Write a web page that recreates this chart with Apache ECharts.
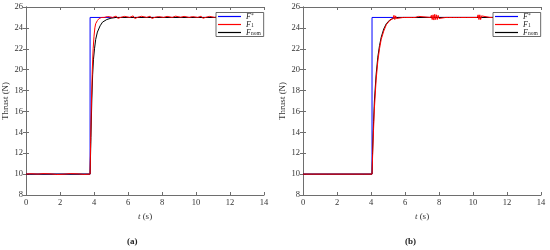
<!DOCTYPE html>
<html>
<head>
<meta charset="utf-8">
<script src="https://cdn.jsdelivr.net/npm/echarts@6/dist/echarts.min.js"></script>
<style>
html,body{margin:0;padding:0;background:#fff;}
#c{width:550px;height:250px;}
</style>
</head>
<body>
<div id="c"></div>
<script>
// ---- data (t in s, thrust in N) ----
var xTicks = [0, 2, 4, 6, 8, 10, 12, 14];
var yTicks = [8, 10, 12, 14, 16, 18, 20, 22, 24, 26];

// (a)
var refA = [[0,10],[3.77,10],[3.77,25],[13.8,25]];
var f1A = [[0,10],[0.3,10.04],[0.4,9.97],[0.7,10],[1.0,10.05],[1.1,9.96],[1.5,10.02],[1.8,9.96],[1.9,10.04],[2.3,10],[2.6,10.05],[2.7,9.96],[3.1,10.02],[3.4,9.97],[3.5,10.04],[3.77,10],
  [3.80,13],[3.85,17],[3.90,20],[3.95,22],[4.00,23.2],[4.05,24],[4.10,24.4],[4.20,24.7],[4.30,24.9],[4.45,25],
  [4.6,25.0],[4.8,25.09],[4.9,24.94],[5.1,25.0],[5.3,25.13],[5.4,24.91],[5.6,25.02],[5.8,25.1],[5.9,24.93],[6.1,25.0],[6.3,25.15],[6.4,24.9],[6.6,25.03],[6.8,25.11],[6.9,24.94],[7.1,25.0],[7.3,25.12],[7.4,24.9],[7.6,25.02],[7.8,25.08],[7.9,24.95],[8.1,25.0],[8.3,25.1],[8.4,24.92],[8.6,25.0],[8.8,25.12],[8.9,24.93],[9.1,25.02],[9.3,25.1],[9.4,24.94],[9.6,25.0],[9.8,25.08],[9.9,24.93],[10.1,25.0],[10.3,25.12],[10.4,24.92],[10.6,25.02],[10.8,25.1],[10.9,24.94],[11.1,25.0],[11.3,25.1],[11.4,24.93],[11.6,25.0],[11.8,25.1],[11.9,24.92],[12.1,25.02],[12.3,25.12],[12.4,24.93],[12.6,25.0],[12.8,25.08],[12.9,24.94],[13.1,25.0],[13.3,25.1],[13.4,24.92],[13.6,25.0],[13.7,25.25],[13.75,24.85],[13.8,25.0]];
var fnomA = [[0,10],[3.77,10],[3.82,13.5],[3.87,17],[3.92,19.5],[3.97,21],[4.03,22],[4.10,22.9],[4.20,23.6],[4.36,24.2],[4.50,24.55],[4.75,24.8],[5.00,24.93],[5.30,25],[13.8,25]];

// (b)
var refB = [[0,10],[4.06,10],[4.06,25],[13.8,25]];
var f1B = [[0,10],[0.55,10],[0.6,10.08],[0.65,10],[1.45,10],[1.5,10.08],[1.55,10],[2.35,10],[2.4,10.07],[2.45,10],[2.95,10],[3.0,9.93],[3.05,10],[3.55,10],[3.6,10.07],[3.65,10],[4.06,10],
  [4.10,12],[4.15,14.3],[4.20,16.3],[4.30,19],[4.40,20.8],[4.50,22],[4.60,22.9],[4.75,23.7],[4.90,24.3],[5.10,24.7],[5.30,24.9],
  [5.35,25.2],[5.4,24.8],[5.45,25.15],[5.5,24.9],[5.6,25],[5.9,25],[5.95,25.15],[6.0,24.9],[6.05,25],[6.3,25],[6.35,25.12],[6.4,24.9],[6.45,25],[6.6,25],[6.65,25.15],[6.7,24.9],[6.8,25.1],[6.85,25],
  [7.5,25],[7.55,25.2],[7.6,24.8],[7.65,25.25],[7.7,24.75],[7.75,25.3],[7.8,24.8],[7.85,25.25],[7.9,24.8],[7.95,25.2],[8.0,24.9],[8.05,25],
  [8.4,25],[8.45,25.12],[8.5,24.9],[8.55,25],[8.8,25],[8.85,25.1],[8.9,24.92],[8.95,25],[9.1,25],[9.15,25.12],[9.2,24.9],[9.25,25],[9.6,25],[9.65,25.1],[9.7,25],
  [10.25,25],[10.3,25.25],[10.35,24.8],[10.4,25.25],[10.45,24.8],[10.5,25.15],[10.55,25],[11.0,25],[11.05,25.12],[11.1,24.9],[11.15,25],[12.0,25],[12.05,25.1],[12.1,24.92],[12.15,25],[13.8,25]];
var fnomB = [[0,10],[4.06,10],[4.10,12.5],[4.15,15],[4.20,17],[4.30,19.5],[4.40,21.2],[4.50,22.3],[4.60,23.1],[4.75,23.9],[4.90,24.4],[5.10,24.75],[5.30,24.92],[5.60,25],[13.8,25]];

// ---- chart ----
var FONT = 'Liberation Serif';
var AX = '#6e6e6e';
function xAx(gi, top) {
  return {
    type: 'value', gridIndex: gi, position: top ? 'top' : 'bottom',
    min: 0, max: 14, interval: 2,
    axisLine: {show: true, lineStyle: {color: AX, width: 1}},
    axisTick: {show: true, inside: true, length: 3, lineStyle: {color: AX}},
    axisLabel: {show: !top, fontFamily: FONT, fontSize: 8.5, color: '#333', margin: 3},
    splitLine: {show: false},
    name: top ? '' : '{i|t} (s)', nameLocation: 'middle', nameGap: 14,
    nameTextStyle: {fontFamily: FONT, fontSize: 9, color: '#333',
      rich: {i: {fontFamily: FONT, fontStyle: 'italic', fontSize: 9, color: '#333'}}}
  };
}
function yAx(gi, right) {
  return {
    type: 'value', gridIndex: gi, position: right ? 'right' : 'left',
    min: 8, max: 26, interval: 2,
    axisLine: {show: true, lineStyle: {color: AX, width: 1}},
    axisTick: {show: true, inside: true, length: 3, lineStyle: {color: AX}},
    axisLabel: {show: !right, fontFamily: FONT, fontSize: 8.5, color: '#333', margin: 3},
    splitLine: {show: false},
    name: right ? '' : 'Thrust (N)', nameLocation: 'middle', nameGap: 13,
    nameTextStyle: {fontFamily: FONT, fontSize: 9, color: '#333'}
  };
}
function ser(name, data, color, gi) {
  return {
    name: name, type: 'line', data: data, xAxisIndex: gi * 2, yAxisIndex: gi * 2,
    symbol: 'none', lineStyle: {color: color, width: 1}, itemStyle: {color: color},
    animation: false, z: 2
  };
}
var richLeg = {
  i: {fontFamily: FONT, fontStyle: 'italic', fontSize: 8, color: '#222', lineHeight: 8},
  sp: {fontFamily: FONT, fontSize: 5.5, color: '#222', verticalAlign: 'top', lineHeight: 8},
  sb: {fontFamily: FONT, fontSize: 5.5, color: '#222', verticalAlign: 'bottom', lineHeight: 8}
};
function legFmt(n) {
  if (n.indexOf('Fs') === 0) return '{i|F}{sp|*}';
  if (n.indexOf('F1') === 0) return '{i|F}{sb|1}';
  return '{i|F}{sb|nom}';
}
function leg(left, names) {
  return {
    data: names, orient: 'vertical', left: left, top: 12.5,
    icon: 'path://M0,0 L23,0 L23,1.2 L0,1.2 Z',
    itemWidth: 23, itemHeight: 8, itemGap: 0, padding: [0, 3, 0, 2],
    borderColor: '#444', borderWidth: 0.8, backgroundColor: '#fff',
    formatter: legFmt, textStyle: {rich: richLeg}, selectedMode: false
  };
}

var chart = echarts.init(document.getElementById('c'), null, {renderer: 'canvas'});
chart.setOption({
  backgroundColor: '#fff',
  animation: false,
  grid: [
    {left: 26, top: 7, width: 238, height: 188},
    {left: 303, top: 7, width: 238, height: 188}
  ],
  xAxis: [xAx(0, false), xAx(0, true), xAx(1, false), xAx(1, true)],
  yAxis: [yAx(0, false), yAx(0, true), yAx(1, false), yAx(1, true)],
  legend: [leg(216, ['Fs_a', 'F1_a', 'Fn_a']), leg(493, ['Fs_b', 'F1_b', 'Fn_b'])],
  series: [
    ser('Fs_a', refA, '#0000ff', 0),
    ser('Fn_a', fnomA, '#000000', 0),
    ser('F1_a', f1A, '#ff0000', 0),
    ser('Fs_b', refB, '#0000ff', 1),
    ser('Fn_b', fnomB, '#000000', 1),
    ser('F1_b', f1B, '#ff0000', 1)
  ],
  graphic: [
    {type: 'text', left: 127, top: 237, style: {text: '(a)', font: 'bold 9px "Liberation Serif"', fill: '#222'}},
    {type: 'text', left: 405, top: 237, style: {text: '(b)', font: 'bold 9px "Liberation Serif"', fill: '#222'}}
  ]
});
</script>
</body>
</html>
